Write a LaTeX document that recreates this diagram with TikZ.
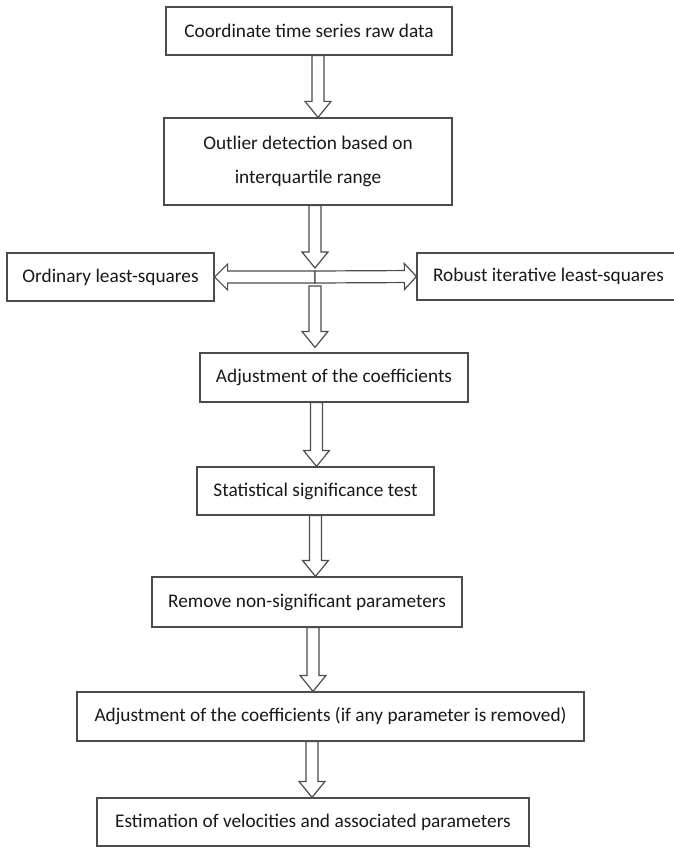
\documentclass[tikz,border=0pt]{standalone}
\usepackage{fontspec}
\setmainfont{Carlito}
\usetikzlibrary{calc}

\tikzset{
  procbox/.style={draw=black!70,line width=1.2pt,fill=white,rectangle,inner sep=0pt,
    align=center,text=black!90,font=\fontsize{19.3}{34}\selectfont},
  hollowarrow/.style={draw=black!70,line width=1.2pt,fill=white,line join=miter},
}

% 白抜きの矢印：#2 から #3 へ（#1 は矢じりの長さ）
\newcommand{\blockarrow}[3][16pt]{%
  \coordinate (tail) at (#2);
  \coordinate (tip) at (#3);
  \coordinate (headbase) at ($(tip)!#1!(tail)$);
  \draw[hollowarrow] ($(tail)!6pt!90:(tip)$) -- ($(headbase)!6pt!90:(tip)$)
    -- ($(headbase)!13pt!90:(tip)$) -- (tip) -- ($(headbase)!13pt!-90:(tip)$)
    -- ($(headbase)!6pt!-90:(tip)$) -- ($(tail)!6pt!-90:(tip)$) -- cycle;}

\begin{document}
\begin{tikzpicture}[x=1pt,y=-1pt]
  \useasboundingbox (0,0) rectangle (674,848); % 画像全体の大きさ

  % 処理のボックス（上から順に）
  \node[procbox,minimum width=286pt,minimum height=48pt] (raw) at (309,31) {Coordinate time series raw data};
  \node[procbox,minimum width=288pt,minimum height=87pt] (outlier) at (308,161.5) {Outlier detection based on\\interquartile range};
  \node[procbox,minimum width=207pt,minimum height=48pt] (ols) at (110.5,277) {Ordinary least-squares};
  \node[procbox,minimum width=263pt,minimum height=47pt] (robust) at (548.5,276.5) {Robust iterative least-squares}; % 右端は画像の外にはみ出す
  \node[procbox,minimum width=268pt,minimum height=49pt] (adjust) at (334,377.5) {Adjustment of the coefficients};
  \node[procbox,minimum width=237pt,minimum height=48pt] (stat) at (315.5,491) {Statistical significance test};
  \node[procbox,minimum width=310pt,minimum height=50pt] (remove) at (307,602) {Remove non-significant parameters};
  \node[procbox,minimum width=507pt,minimum height=49pt] (adjustb) at (330.5,716.5) {Adjustment of the coefficients (if any parameter is removed)};
  \node[procbox,minimum width=432pt,minimum height=48pt] (estim) at (313,822) {Estimation of velocities and associated parameters};

  \coordinate (fork) at (315,277); % 左右に分かれる分岐点

  % 矢印
  \blockarrow{[xshift=9pt]raw.south}{[xshift=10pt]outlier.north}
  \blockarrow{outlier.south -| fork}{[yshift=9pt]fork}
  \blockarrow[13pt]{fork}{ols.east}
  \blockarrow[12pt]{fork}{robust.west}
  \blockarrow{[yshift=-9pt]fork}{$(adjust.north -| fork)+(0,-5)$}
  \blockarrow{[xshift=-17.5pt]adjust.south}{[xshift=1pt]stat.north}
  \blockarrow{stat.south}{remove.north -| stat.south}
  \blockarrow{[xshift=6pt]remove.south}{[xshift=-17.5pt]adjustb.north}
  \blockarrow{[xshift=-18.5pt]adjustb.south}{[xshift=-1pt]estim.north}
\end{tikzpicture}
\end{document}
